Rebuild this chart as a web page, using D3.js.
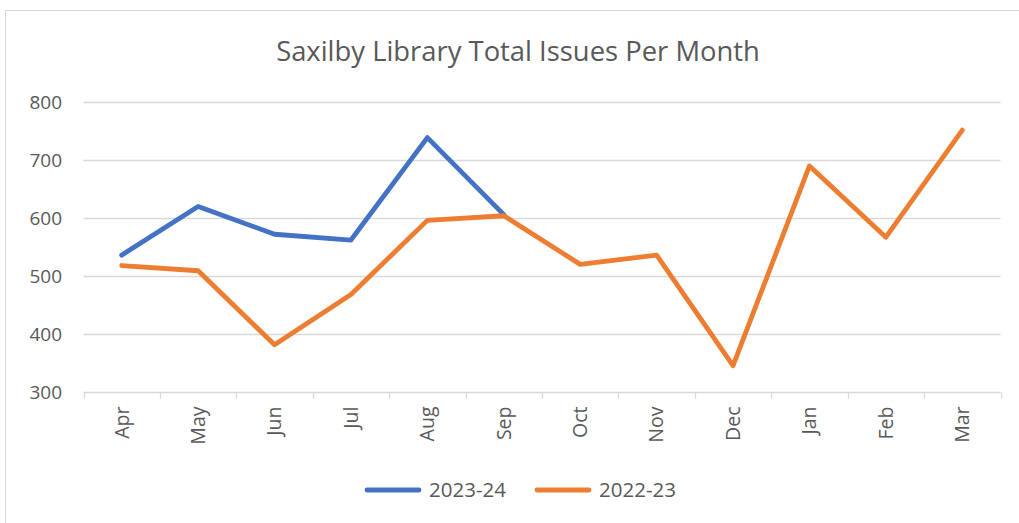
<!DOCTYPE html>
<html>
<head>
<meta charset="utf-8">
<script src="https://cdn.jsdelivr.net/npm/d3@7"></script>
<style>
html,body{margin:0;padding:0;background:#fff;}
svg{display:block;}
</style>
</head>
<body>
<svg id="chart" width="1019" height="523"></svg>
<script>
const months = ["Apr","May","Jun","Jul","Aug","Sep","Oct","Nov","Dec","Jan","Feb","Mar"];
const series2324 = [536, 620, 572, 562, 739, 606];
const series2223 = [518, 509, 381, 468, 596, 604, 520, 536, 345, 690, 567, 752];
const yTicks = [300, 400, 500, 600, 700, 800];
const seriesNames = ["2023-24", "2022-23"];
const colors = ["#4472C4", "#ED7D31"];
const title = "Saxilby Library Total Issues Per Month";

(function () {
const svg = d3.select("#chart");
const W = 1019, H = 523;
const font = "'Open Sans', sans-serif";
const textColor = "#595959";

svg.append("rect").attr("x", 5.5).attr("y", 10.5).attr("width", W + 10).attr("height", H + 10)
  .attr("fill", "#fff").attr("stroke", "#d9d9d9").attr("stroke-width", 1);

const pLeft = 83.5, pRight = 1000.5, pTop = 102.3, pBottom = 391.7;

const x = d3.scaleBand().domain(months).range([pLeft, pRight]).padding(0);
const y = d3.scaleLinear().domain([300, 800]).range([pBottom, pTop]);

svg.append("g").selectAll("line").data(yTicks.filter(d => d !== 300)).join("line")
  .attr("x1", pLeft).attr("x2", pRight)
  .attr("y1", d => Math.round(y(d)) + 0.5).attr("y2", d => Math.round(y(d)) + 0.5)
  .attr("stroke", "#d9d9d9").attr("stroke-width", 1.3);

const yAxis = d3.axisLeft(y).tickValues(yTicks).tickSize(0).tickPadding(0);
const yg = svg.append("g").attr("transform", `translate(${62},0)`).call(yAxis);
yg.select(".domain").remove();
yg.selectAll("text").attr("font-family", font).attr("font-size", 19).attr("fill", textColor).attr("dy", "0.35em");

const xAxisG = svg.append("g").attr("transform", `translate(0,${Math.round(pBottom) + 0.5})`);
xAxisG.append("line").attr("x1", pLeft).attr("x2", pRight).attr("stroke", "#d9d9d9").attr("stroke-width", 1.3);
const tickPos = months.map(m => x(m)).concat([x(months[months.length - 1]) + x.bandwidth()]);
xAxisG.selectAll("line.tk").data(tickPos).join("line").attr("class", "tk")
  .attr("x1", d => Math.round(d) + 0.5).attr("x2", d => Math.round(d) + 0.5)
  .attr("y1", 0).attr("y2", 6).attr("stroke", "#d9d9d9").attr("stroke-width", 1.3);
xAxisG.selectAll("text").data(months).join("text")
  .attr("transform", d => `translate(${x(d) + x.bandwidth() / 2},14) rotate(-90)`)
  .attr("text-anchor", "end").attr("dy", "0.35em")
  .attr("font-family", font).attr("font-size", 19.5).attr("fill", textColor)
  .text(d => d);

const line = d3.line().x((d, i) => x(months[i]) + x.bandwidth() / 2).y(d => y(d));
[series2324, series2223].forEach((s, k) => {
  svg.append("path").datum(s).attr("d", line)
    .attr("fill", "none").attr("stroke", colors[k]).attr("stroke-width", 4.8)
    .attr("stroke-linejoin", "round").attr("stroke-linecap", "round");
});

svg.append("text").attr("x", 518).attr("y", 51).attr("dy", "0.35em")
  .attr("text-anchor", "middle").attr("font-family", font).attr("font-size", 27.4)
  .attr("fill", textColor).text(title);

const lg = svg.append("g");
const legendItems = [{name: seriesNames[0], c: colors[0], x: 367}, {name: seriesNames[1], c: colors[1], x: 537}];
legendItems.forEach(it => {
  lg.append("line").attr("x1", it.x).attr("x2", it.x + 52).attr("y1", 490).attr("y2", 490)
    .attr("stroke", it.c).attr("stroke-width", 4.8).attr("stroke-linecap", "round");
  lg.append("text").attr("x", it.x + 62).attr("y", 490).attr("dy", "0.35em")
    .attr("font-family", font).attr("font-size", 20.5).attr("fill", textColor).text(it.name);
});
})();
</script>
</body>
</html>
